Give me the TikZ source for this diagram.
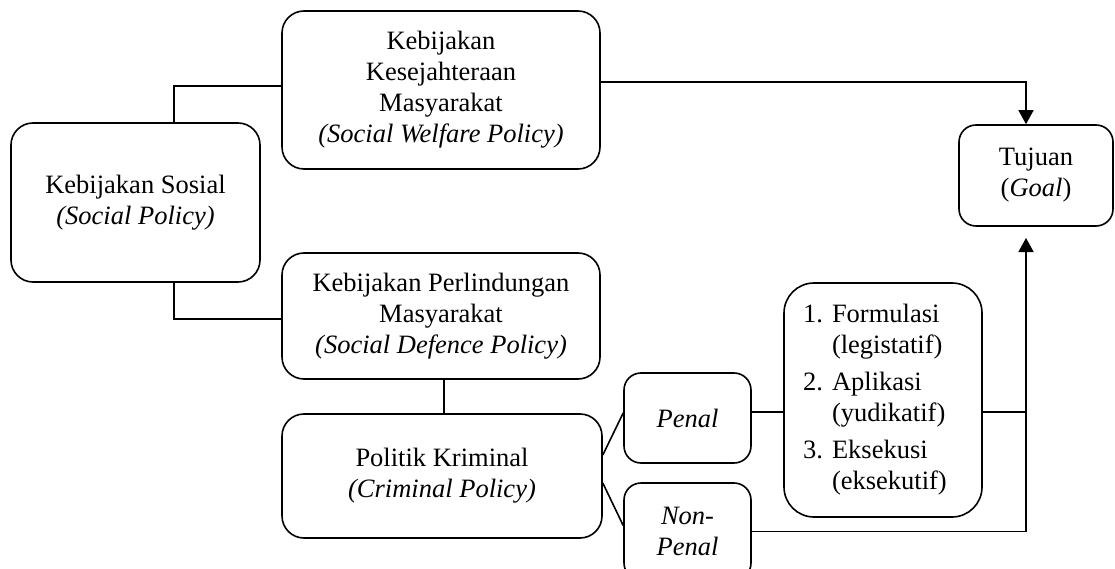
\documentclass[tikz,border=0pt]{standalone}
\usepackage{fontspec}
\setmainfont{Liberation Serif}
\usetikzlibrary{arrows.meta}
\begin{document}
\begin{tikzpicture}[x=1pt,y=-1pt,
  box/.style={draw,line width=1.6pt,rounded corners=#1,align=center,inner sep=0pt,
              font=\fontsize{26.5}{31}\selectfont},
  box/.default=22pt,
  link/.style={line width=1.6pt},
  goalarrow/.style={link,-{Triangle[length=14pt,width=15pt]}}
]
\useasboundingbox (0,0) rectangle (1115,569);

% policy boxes
\node[box, minimum width=249pt, minimum height=159pt] (soc) at (135.5,202.5)
  {Kebijakan Sosial\\\textit{(Social Policy)}};
\node[box, minimum width=318pt, minimum height=158pt] (wel) at (441,90)
  {Kebijakan\\Kesejahteraan\\Masyarakat\\\textit{(Social Welfare Policy)}};
\node[box, minimum width=318pt, minimum height=126pt] (def) at (441,316)
  {Kebijakan Perlindungan\\Masyarakat\\\textit{(Social Defence Policy)}};
\node[box, minimum width=320pt, minimum height=124pt] (pol) at (442,476)
  {Politik Kriminal\\\textit{(Criminal Policy)}};
\node[box=17pt, minimum width=127pt, minimum height=90pt] (pen) at (687.5,418)
  {\textit{Penal}};
\node[box=17pt, minimum width=127pt, minimum height=97pt] (non) at (687.5,531.5)
  {\textit{Non-}\\\textit{Penal}};
\node[box=30pt, minimum width=198pt, minimum height=234pt, text width=160pt,
      inner xsep=19pt, align=left] (list) at (883,400)
  {\makebox[29pt][l]{1.}Formulasi\\\hspace*{29pt}(legistatif)\\[6pt]
   \makebox[29pt][l]{2.}Aplikasi\\\hspace*{29pt}(yudikatif)\\[6pt]
   \makebox[29pt][l]{3.}Eksekusi\\\hspace*{29pt}(eksekutif)};
\node[box=17pt, minimum width=154pt, minimum height=101pt] (goal) at (1036,175.5)
  {Tujuan\\(\textit{Goal})};

% elbow and column positions
\coordinate (ka) at (174,86);
\coordinate (kb) at (174,319);
\coordinate (kc) at (444,0);
\coordinate (gx) at (1026,0);
\coordinate (gb) at (1026,238);
\coordinate (kp) at ([yshift=6pt]pen.east);

% connectors
\draw[link] (soc.north -| ka) |- (wel.west |- ka);
\draw[link] (soc.south -| kb) |- (def.west |- kb);
\draw[link] (def.south -| kc) -- (pol.north -| kc);
\draw[link] ([yshift=21pt]pol.east) -- ([yshift=5pt]pen.west);
\draw[link] ([yshift=-7pt]pol.east) -- ([yshift=6pt]non.west);
\draw[link] (kp) -- (kp -| list.west);
\draw[link] (list.east |- kp) -- (kp -| gx);
\draw[goalarrow] (non.east) -| (gb);
\draw[goalarrow] ([yshift=8pt]wel.east) -| (goal.north -| gx);
\end{tikzpicture}
\end{document}
